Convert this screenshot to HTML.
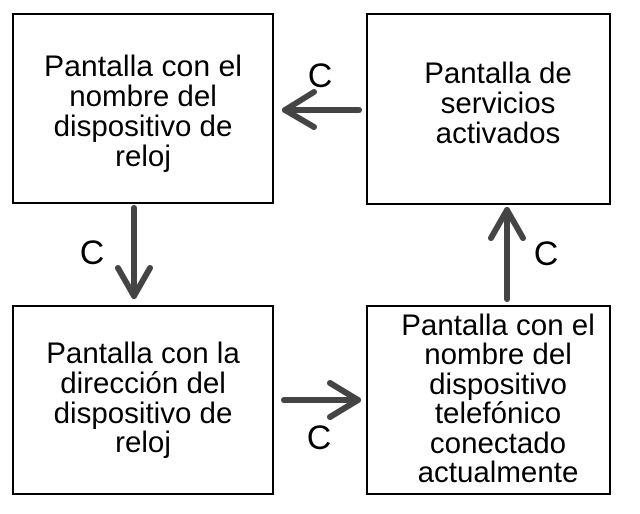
<!DOCTYPE html>
<html><head><meta charset="utf-8"><style>html,body{margin:0;padding:0;background:#fff}</style></head><body>
<svg width="640" height="509" xmlns="http://www.w3.org/2000/svg" font-family="Liberation Sans, sans-serif">
<rect width="640" height="509" fill="#fff"/>
<g fill="none" stroke="#000" stroke-width="2">
<rect x="13" y="14" width="260" height="189"/>
<rect x="367" y="14" width="243" height="190"/>
<rect x="13" y="306" width="260" height="188"/>
<rect x="367" y="306" width="243" height="188"/>
</g>
<g stroke="#444" stroke-width="6" stroke-linecap="round" stroke-linejoin="round" fill="none">
<line x1="359" y1="110" x2="285" y2="110"/><polyline points="314,92 285,110 314,127"/>
<line x1="134" y1="208" x2="134" y2="296"/><polyline points="118,268 134,296 150,268"/>
<line x1="507" y1="299" x2="507" y2="210"/><polyline points="491,238 507,210 523,238"/>
<line x1="284" y1="400" x2="358" y2="400"/><polyline points="330,383 358,400 330,417"/>
</g>
<g font-size="29.5" text-anchor="middle" fill="#000">
<text x="143" y="76" textLength="198" lengthAdjust="spacingAndGlyphs">Pantalla con el</text>
<text x="143" y="106">nombre del</text>
<text x="143" y="136">dispositivo de</text>
<text x="143" y="166">reloj</text>
<text x="498" y="83">Pantalla de</text>
<text x="498" y="113">servicios</text>
<text x="498" y="143">activados</text>
<text x="143" y="363">Pantalla con la</text>
<text x="143" y="393">dirección del</text>
<text x="143" y="423">dispositivo de</text>
<text x="143" y="452">reloj</text>
<text x="498" y="335">Pantalla con el</text>
<text x="498" y="364">nombre del</text>
<text x="498" y="394">dispositivo</text>
<text x="498" y="423">telefónico</text>
<text x="498" y="453">conectado</text>
<text x="498" y="482">actualmente</text>
</g>
<g font-size="34" text-anchor="middle" fill="#000">
<text x="320" y="87">C</text>
<text x="92" y="264">C</text>
<text x="546" y="265">C</text>
<text x="319" y="449">C</text>
</g>
</svg>
</body></html>
